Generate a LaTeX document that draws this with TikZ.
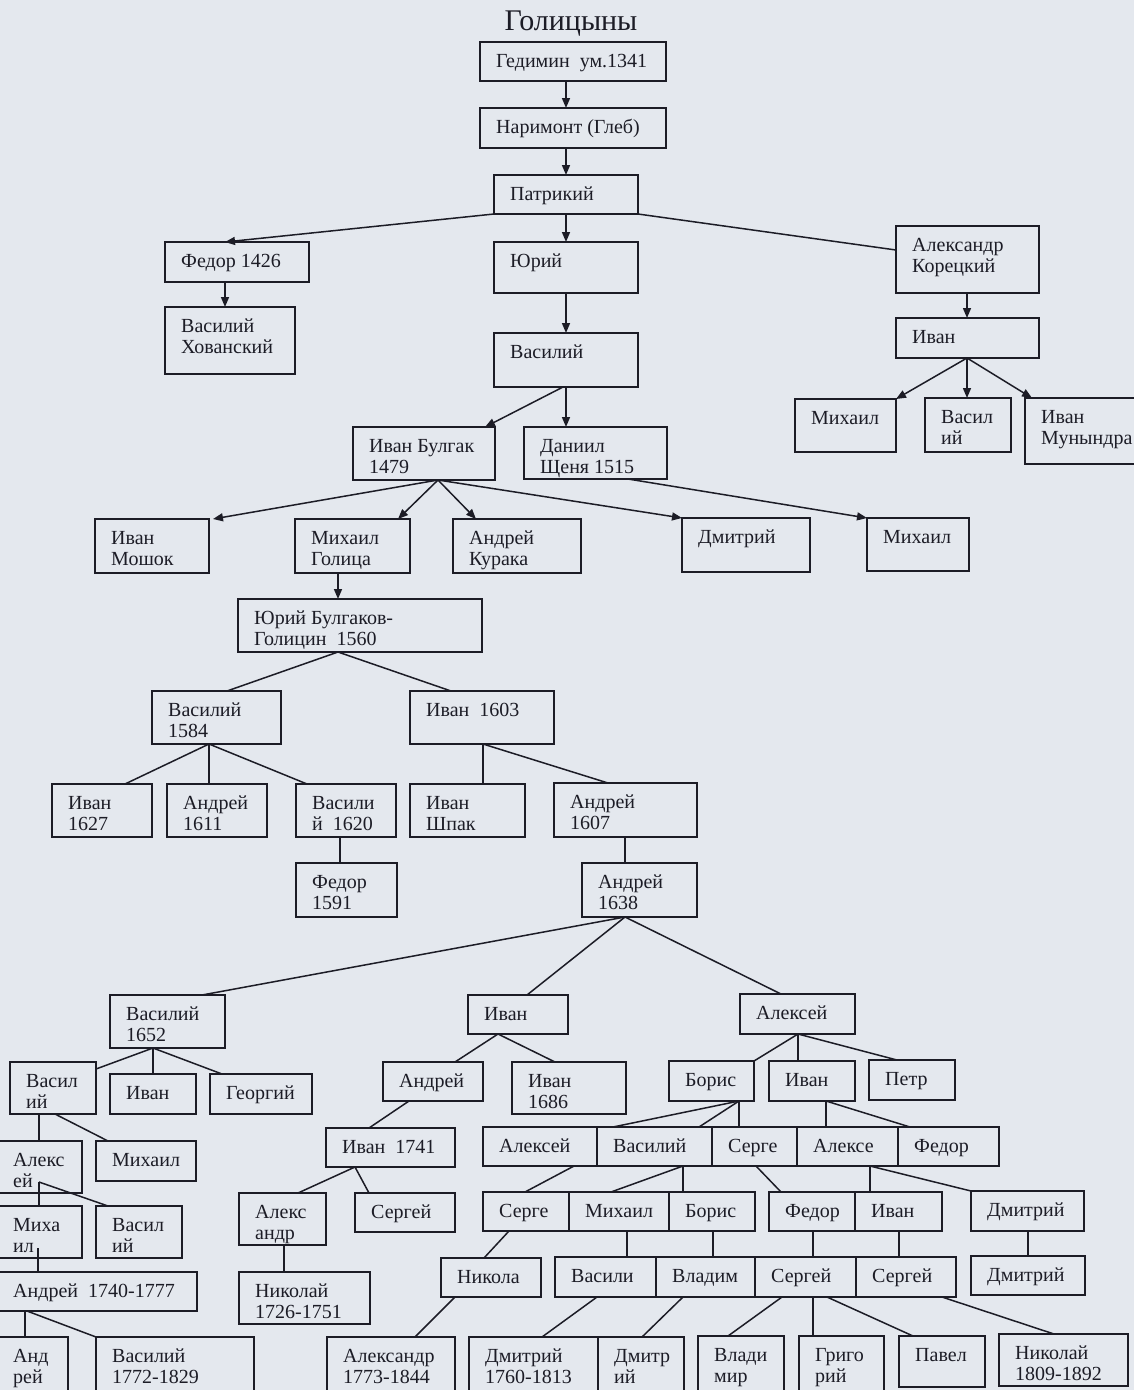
\documentclass[tikz,border=0pt]{standalone}
\usepackage{fontspec}
\setmainfont{Liberation Serif}
\usetikzlibrary{arrows.meta}
\definecolor{paper}{RGB}{228,232,238}
\definecolor{ink}{RGB}{28,28,38}
\tikzset{
  boxst/.style={draw=ink,line width=1.6pt,inner sep=0pt,outer sep=0pt,anchor=north west},
  txtst/.style={anchor=base west,inner sep=0pt,text=ink,font=\fontsize{20}{21.5}\selectfont},
  conn/.style={draw=ink,line width=1.5pt},
  arr/.style={conn,-{Triangle[length=10pt,width=8pt]}}
}
\newcommand\tw[2]{\vtop{\hbox{#1}\hbox{#2}}}
\newcommand\bx[6]{\node[boxst,minimum width={((#4)-(#2))*1pt},minimum height={((#5)-(#3))*1pt}] (#1) at (#2,#3) {};
\node[txtst] (#1-t) at ([xshift=16pt,yshift=-25pt]#1.north west) {#6};}
\newcommand\bxc[6]{\node[boxst,minimum width={((#4)-(#2))*1pt},minimum height={((#5)-(#3))*1pt}] (#1) at (#2,#3) {};
\node[txtst] (#1-t) at ([xshift=19pt,yshift=-25pt]#1.north west) {#6};}
\newcommand\cnl[4]{\draw[conn] (#1,0 |- #2) -- (#3,0 |- #4);}
\newcommand\cna[4]{\draw[arr] (#1,0 |- #2) -- (#3,0 |- #4);}
\begin{document}
\begin{tikzpicture}[x=1pt,y=-1pt]
\useasboundingbox (0,0) rectangle (1134,1390);
\fill[paper] (0,0) rectangle (1134,1390);
\node[anchor=base,inner sep=0pt,text=ink,font=\fontsize{30}{32}\selectfont] (title) at (571,30) {Голицыны};
% boxes
\bx{g1}{480}{42}{666}{81}{Гедимин\ \ ум.1341}
\bx{g2}{480}{108}{666}{148}{Наримонт (Глеб)}
\bx{g3}{494}{175}{638}{214}{Патрикий}
\bx{yur}{494}{242}{638}{293}{Юрий}
\bx{fed}{165}{242}{309}{282}{Федор 1426}
\bx{vkh}{165}{307}{295}{374}{\tw{Василий}{Хованский}}
\bx{akor}{896}{226}{1039}{293}{\tw{Александр}{Корецкий}}
\bx{ivr}{896}{318}{1039}{358}{Иван}
\bx{mikr}{795}{399}{896}{452}{Михаил}
\bx{vasr}{925}{398}{1011}{452}{\tw{Васил}{ий}}
\bx{ivm}{1025}{398}{1140}{464}{\tw{Иван}{Мунындра}}
\bx{vas}{494}{333}{638}{387}{Василий}
\bx{ivb}{353}{427}{495}{480}{\tw{Иван Булгак}{1479}}
\bx{dan}{524}{427}{667}{479}{\tw{Даниил}{Щеня 1515}}
\bx{ivmo}{95}{519}{209}{573}{\tw{Иван}{Мошок}}
\bx{mig}{295}{519}{410}{573}{\tw{Михаил}{Голица}}
\bx{ank}{453}{519}{581}{573}{\tw{Андрей}{Курака}}
\bx{dmi}{682}{518}{810}{572}{Дмитрий}
\bx{mik2}{867}{518}{969}{571}{Михаил}
\bx{ybg}{238}{599}{482}{652}{\tw{Юрий Булгаков-}{Голицин\ \ 1560}}
\bx{v1584}{152}{691}{281}{744}{\tw{Василий}{1584}}
\bx{i1603}{410}{691}{554}{744}{Иван\ \ 1603}
\bx{i1627}{52}{784}{152}{837}{\tw{Иван}{1627}}
\bx{a1611}{167}{784}{267}{837}{\tw{Андрей}{1611}}
\bx{v1620}{296}{784}{396}{837}{\tw{Васили}{й\ \ 1620}}
\bx{ishp}{410}{784}{525}{837}{\tw{Иван}{Шпак}}
\bx{a1607}{554}{783}{697}{837}{\tw{Андрей}{1607}}
\bx{f1591}{296}{863}{397}{917}{\tw{Федор}{1591}}
\bx{a1638}{582}{863}{697}{917}{\tw{Андрей}{1638}}
\bx{v1652}{110}{995}{225}{1048}{\tw{Василий}{1652}}
\bx{ivx}{468}{995}{568}{1034}{Иван}
\bx{alx}{740}{994}{855}{1034}{Алексей}
% left branch
\bx{vl1}{10}{1062}{96}{1114}{\tw{Васил}{ий}}
\bx{il}{110}{1074}{196}{1114}{Иван}
\bx{geo}{210}{1074}{312}{1114}{Георгий}
\bxc{alek}{-6}{1141}{82}{1193}{\tw{Алекс}{ей}}
\bx{mikl}{96}{1141}{196}{1181}{Михаил}
\bxc{miha}{-6}{1206}{82}{1258}{\tw{Миха}{ил}}
\bx{vl2}{96}{1206}{182}{1258}{\tw{Васил}{ий}}
\bxc{a1740}{-6}{1272}{197}{1311}{Андрей\ \ 1740-1777}
\bxc{andr}{-6}{1337}{68}{1394}{\tw{Анд}{рей}}
\bx{v1772}{96}{1337}{254}{1394}{\tw{Василий}{1772-1829}}
% middle branch
\bx{anm}{383}{1062}{483}{1101}{Андрей}
\bx{i1686}{512}{1062}{626}{1114}{\tw{Иван}{1686}}
\bx{i1741}{326}{1128}{455}{1167}{Иван\ \ 1741}
\bx{alan}{239}{1193}{326}{1245}{\tw{Алекс}{андр}}
\bx{serm}{355}{1193}{455}{1232}{Сергей}
\bx{n1726}{239}{1272}{370}{1324}{\tw{Николай}{1726-1751}}
\bx{a1773}{327}{1337}{455}{1394}{\tw{Александр}{1773-1844}}
\bx{nik}{441}{1258}{541}{1297}{Никола}
\bx{d1760}{469}{1337}{598}{1394}{\tw{Дмитрий}{1760-1813}}
% right branch
\bx{bor}{669}{1061}{754}{1101}{Борис}
\bx{ivn}{769}{1061}{855}{1101}{Иван}
\bx{petr}{869}{1060}{955}{1100}{Петр}
\bx{r2a}{483}{1127}{597}{1166}{Алексей}
\bx{r2b}{597}{1127}{712}{1166}{Василий}
\bx{r2c}{712}{1127}{797}{1166}{Серге}
\bx{r2d}{797}{1127}{898}{1166}{Алексе}
\bx{r2e}{898}{1127}{999}{1166}{Федор}
\bx{r3a}{483}{1192}{569}{1231}{Серге}
\bx{r3b}{569}{1192}{669}{1231}{Михаил}
\bx{r3c}{669}{1192}{755}{1231}{Борис}
\bx{r3d}{769}{1192}{855}{1231}{Федор}
\bx{r3e}{855}{1192}{942}{1231}{Иван}
\bx{r3f}{971}{1191}{1084}{1231}{Дмитрий}
\bx{r4b}{555}{1257}{656}{1297}{Васили}
\bx{r4c}{656}{1257}{755}{1297}{Владим}
\bx{r4d}{755}{1257}{856}{1297}{Сергей}
\bx{r4e}{856}{1257}{956}{1297}{Сергей}
\bx{r4f}{971}{1256}{1085}{1295}{Дмитрий}
\bx{r5b}{598}{1337}{684}{1394}{\tw{Дмитр}{ий}}
\bx{r5c}{698}{1336}{784}{1394}{\tw{Влади}{мир}}
\bx{r5d}{799}{1336}{884}{1394}{\tw{Григо}{рий}}
\bx{r5e}{899}{1336}{985}{1387}{Павел}
\bx{r5f}{999}{1334}{1128}{1386}{\tw{Николай}{1809-1892}}
% arrows
\cna{566}{g1.south}{566}{g2.north}
\cna{566}{g2.south}{566}{g3.north}
\cna{566}{g3.south}{566}{yur.north}
\draw[arr] (g3.south west) -- (225,0 |- fed.north);
\draw[conn] (g3.south east) -- (akor.west |- 0,250);
\cna{225}{fed.south}{225}{vkh.north}
\cna{566}{yur.south}{566}{vas.north}
\cna{563}{vas.south}{485}{ivb.north}
\cna{566}{vas.south}{566}{dan.north}
\cna{967}{akor.south}{967}{ivr.north}
\draw[arr] (967,0 |- ivr.south) -- (mikr.north east);
\cna{967}{ivr.south}{967}{vasr.north}
\cna{967}{ivr.south}{1032}{ivm.north}
\cna{438}{ivb.south}{213}{ivmo.north}
\cna{438}{ivb.south}{398}{mig.north}
\cna{438}{ivb.south}{476}{ank.north}
\draw[arr] (438,0 |- ivb.south) -- (dmi.north west);
\draw[arr] (628,0 |- dan.south) -- (mik2.north west);
\cna{338}{mig.south}{338}{ybg.north}
% lines
\cnl{338}{ybg.south}{227}{v1584.north}
\cnl{338}{ybg.south}{451}{i1603.north}
\cnl{209}{v1584.south}{125}{i1627.north}
\cnl{209}{v1584.south}{209}{a1611.north}
\cnl{209}{v1584.south}{307}{v1620.north}
\cnl{483}{i1603.south}{483}{ishp.north}
\cnl{483}{i1603.south}{608}{a1607.north}
\cnl{340}{v1620.south}{340}{f1591.north}
\cnl{625}{a1607.south}{625}{a1638.north}
\cnl{625}{a1638.south}{202}{v1652.north}
\cnl{625}{a1638.south}{527}{ivx.north}
\cnl{625}{a1638.south}{781}{alx.north}
\draw[conn] (153,0 |- v1652.south) -- (vl1.east |- 0,1069);
\cnl{153}{v1652.south}{153}{il.north}
\cnl{153}{v1652.south}{222}{geo.north}
\cnl{39}{vl1.south}{39}{alek.north}
\cnl{55}{vl1.south}{108}{mikl.north}
\draw[conn] ([yshift=11pt]39,0 |- alek.south) -- (39,0 |- miha.north);
\draw[conn] ([yshift=11pt]39,0 |- alek.south) -- (108,0 |- vl2.north);
\draw[conn] ([yshift=10pt]38,0 |- miha.south) -- (38,0 |- a1740.north);
\cnl{25}{a1740.south}{25}{andr.north}
\draw[conn] (27,0 |- a1740.south) -- (v1772.north west);
\cnl{498}{ivx.south}{455}{anm.north}
\cnl{498}{ivx.south}{555}{i1686.north}
\cnl{409}{anm.south}{369}{i1741.north}
\cnl{355}{i1741.south}{298}{alan.north}
\cnl{355}{i1741.south}{369}{serm.north}
\cnl{284}{alan.south}{284}{n1726.north}
\cnl{455}{nik.south}{415}{a1773.north}
\cnl{574}{r2a.south}{525}{r3a.north}
\cnl{509}{r3a.south}{484}{nik.north}
\draw[conn] (798,0 |- alx.south) -- (bor.north east);
\cnl{798}{alx.south}{798}{ivn.north}
\cnl{798}{alx.south}{897}{petr.north}
\cnl{739}{bor.south}{613}{r2b.north}
\cnl{739}{bor.south}{699}{r2b.north}
\cnl{739}{bor.south}{739}{r2c.north}
\cnl{826}{ivn.south}{826}{r2d.north}
\cnl{826}{ivn.south}{910}{r2e.north}
\cnl{683}{r2b.south}{611}{r3b.north}
\cnl{683}{r2b.south}{683}{r3c.north}
\cnl{756}{r2c.south}{781}{r3d.north}
\cnl{870}{r2d.south}{870}{r3e.north}
\draw[conn] (870,0 |- r2d.south) -- (r3f.north west);
\cnl{627}{r3b.south}{627}{r4b.north}
\cnl{713}{r3c.south}{713}{r4c.north}
\cnl{813}{r3d.south}{813}{r4d.north}
\cnl{899}{r3e.south}{899}{r4e.north}
\cnl{1028}{r3f.south}{1028}{r4f.north}
\cnl{597}{r4b.south}{542}{d1760.north}
\cnl{683}{r4c.south}{642}{r5b.north}
\cnl{782}{r4d.south}{728}{r5c.north}
\cnl{813}{r4d.south}{813}{r5d.north}
\cnl{827}{r4d.south}{913}{r5e.north}
\cnl{942}{r4e.south}{1054}{r5f.north}
\end{tikzpicture}
\end{document}
